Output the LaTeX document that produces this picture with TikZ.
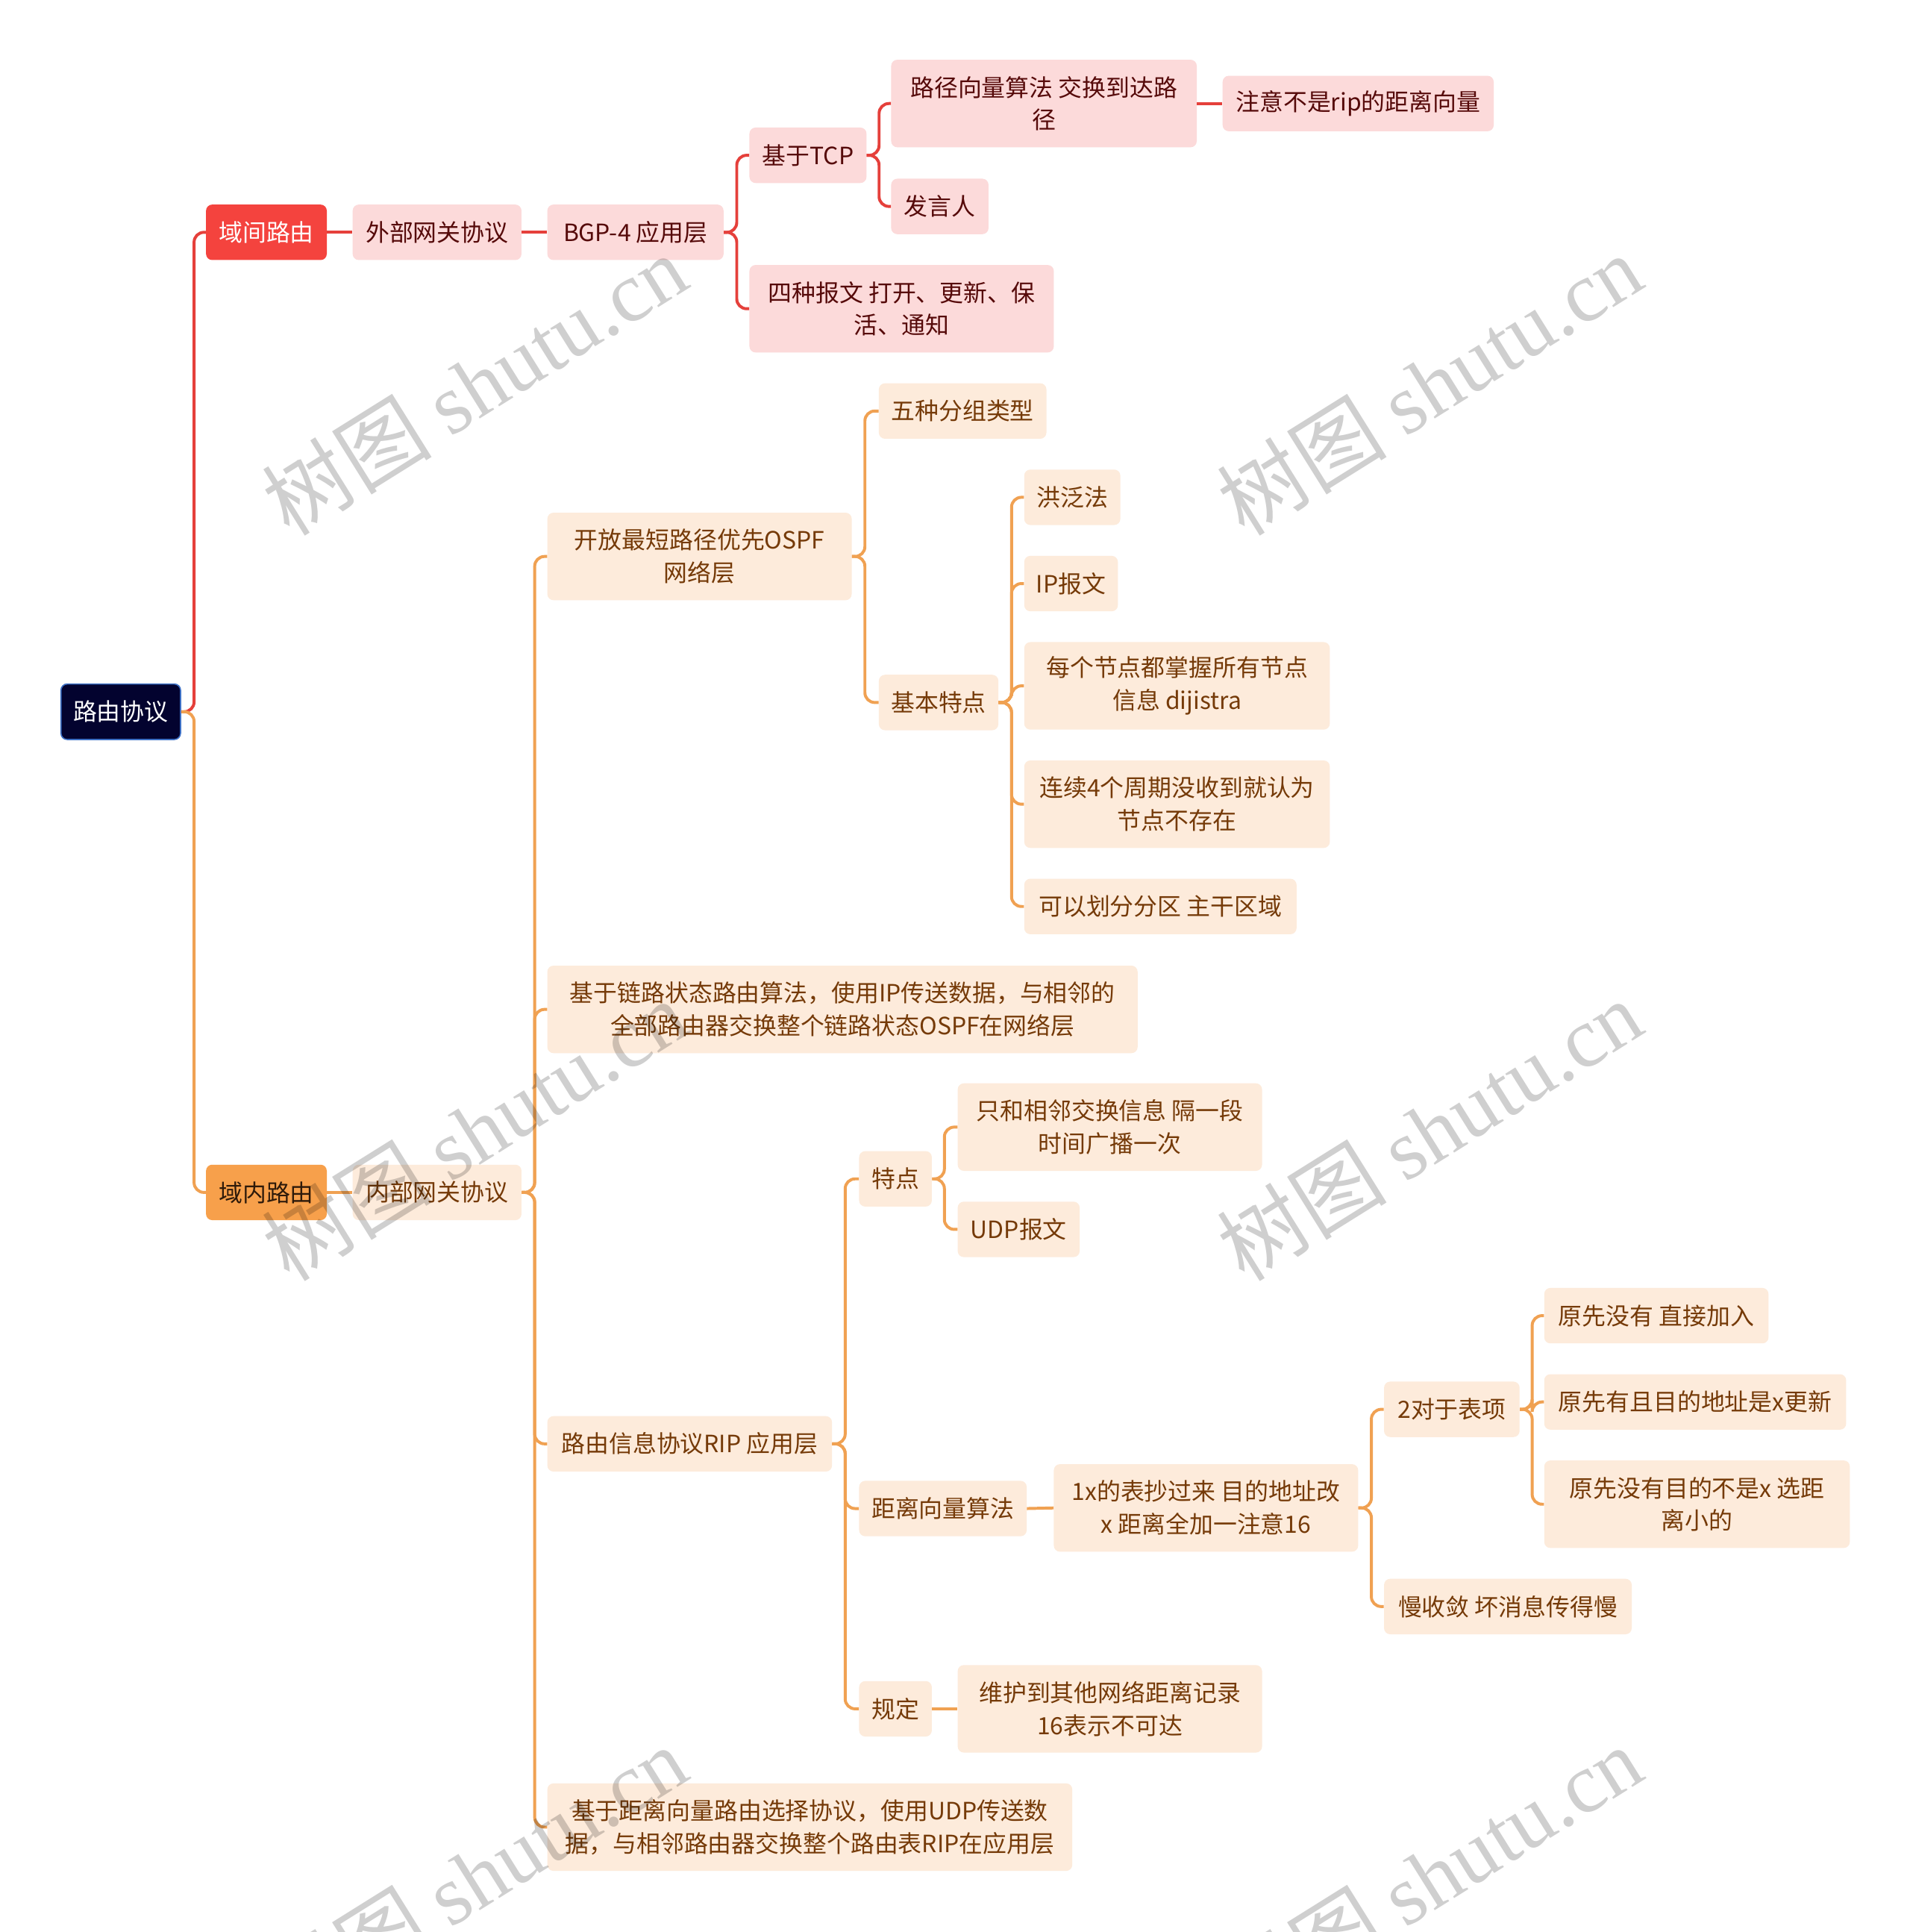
\documentclass[tikz,border=0pt]{standalone}
\usepackage{fontspec}
\setmainfont{Noto Sans CJK SC}
\newfontfamily\wmfont{Liberation Serif}
\definecolor{rootfill}{HTML}{03032F}
\definecolor{rootborder}{HTML}{3C6FC4}
\definecolor{redfill}{HTML}{F4433E}
\definecolor{redlight}{HTML}{FCDADA}
\definecolor{redtext}{HTML}{560A0A}
\definecolor{redline}{HTML}{E5403B}
\definecolor{orafill}{HTML}{F7A04B}
\definecolor{oralight}{HTML}{FDEBDB}
\definecolor{oratext}{HTML}{753A08}
\definecolor{oradark}{HTML}{2E1A0A}
\definecolor{oraline}{HTML}{F0A152}
\begin{document}
\begin{tikzpicture}[x=1pt,y=-1pt,
  base/.style={anchor=west, rounded corners=5pt, align=center, inner xsep=3pt, inner ysep=2pt, minimum height=45pt, font=\fontsize{19.3pt}{26.5pt}\selectfont},
  dbl/.style={minimum height=71pt},
  rootn/.style={base, fill=rootfill, draw=rootborder, line width=1pt, text=white},
  redh/.style={base, fill=redfill, text=white},
  redl/.style={base, fill=redlight, text=redtext},
  orah/.style={base, fill=orafill, text=oradark},
  oral/.style={base, fill=oralight, text=oratext},
  rc/.style={draw=redline, line width=2.4pt, rounded corners=8pt},
  oc/.style={draw=oraline, line width=2.4pt, rounded corners=8pt},
  wm/.style={rotate=32, text=black, text opacity=0.19, inner sep=0pt, font=\fontsize{69pt}{69pt}\selectfont}
]
\fill[white] (0,0) rectangle (1550,1567.6);
\useasboundingbox (0,0) rectangle (1550,1567.6);

% nodes
\node[rootn, minimum width=97pt] (root) at (49,577.5) {路由协议};
\node[redh, minimum width=98pt] (inter) at (167,188.5) {域间路由};
\node[redl, minimum width=137pt] (ext) at (286,188.5) {外部网关协议};
\node[redl, minimum width=143pt] (bgp) at (444,188.5) {BGP-4 应用层};
\node[redl, minimum width=95pt] (tcp) at (608,126) {基于TCP};
\node[redl, dbl, minimum width=247pt] (four) at (608,250.5) {四种报文 打开、更新、保\\活、通知};
\node[redl, dbl, minimum width=248pt] (pv) at (723,84) {路径向量算法 交换到达路\\径};
\node[redl, minimum width=79pt] (spk) at (723,167.5) {发言人};
\node[redl, minimum width=220pt] (note) at (992,84) {注意不是rip的距离向量};

\node[orah, minimum width=98pt] (intra) at (167,967.5) {域内路由};
\node[oral, minimum width=137pt] (igp) at (286,967.5) {内部网关协议};
\node[oral, dbl, minimum width=247pt] (ospf) at (444,451.5) {开放最短路径优先OSPF\\网络层};
\node[oral, dbl, minimum width=479pt] (ls) at (444,819) {基于链路状态路由算法，使用IP传送数据，与相邻的\\全部路由器交换整个链路状态OSPF在网络层};
\node[oral, minimum width=231pt] (rip) at (444,1171.5) {路由信息协议RIP 应用层};
\node[oral, dbl, minimum width=426pt] (dv) at (444,1482.5) {基于距离向量路由选择协议，使用UDP传送数\\据，与相邻路由器交换整个路由表RIP在应用层};
\node[oral, minimum width=136pt] (five) at (713,333.5) {五种分组类型};
\node[oral, minimum width=97pt] (basic) at (713,570) {基本特点};
\node[oral, minimum width=78pt] (flood) at (831,403.5) {洪泛法};
\node[oral, minimum width=76pt] (ipm) at (831,473.5) {IP报文};
\node[oral, dbl, minimum width=248pt] (each) at (831,556.5) {每个节点都掌握所有节点\\信息 dijistra};
\node[oral, dbl, minimum width=248pt] (cont) at (831,652.5) {连续4个周期没收到就认为\\节点不存在};
\node[oral, minimum width=221pt] (area) at (831,735.5) {可以划分分区 主干区域};
\node[oral, minimum width=59pt] (feat) at (697,956.5) {特点};
\node[oral, minimum width=136pt] (dva) at (697,1224) {距离向量算法};
\node[oral, minimum width=59pt] (rule) at (697,1386.5) {规定};
\node[oral, dbl, minimum width=247pt] (nbr) at (777,914.5) {只和相邻交换信息 隔一段\\时间广播一次};
\node[oral, minimum width=99pt] (udp) at (777,997.5) {UDP报文};
\node[oral, dbl, minimum width=247pt] (copy) at (855,1223.5) {1x的表抄过来 目的地址改\\x 距离全加一注意16};
\node[oral, minimum width=110pt] (entry) at (1123,1143.5) {2对于表项};
\node[oral, minimum width=201pt] (slow) at (1123,1303.5) {慢收敛 坏消息传得慢};
\node[oral, minimum width=182pt] (add) at (1253,1067.5) {原先没有 直接加入};
\node[oral, minimum width=245pt] (upd) at (1253,1137.5) {原先有且目的地址是x更新};
\node[oral, dbl, minimum width=248pt] (near) at (1253,1220.5) {原先没有目的不是x 选距\\离小的};
\node[oral, dbl, minimum width=247pt] (keep) at (777,1386.5) {维护到其他网络距离记录\\16表示不可达};

% connectors
\draw[rc] (root.east) -- ++(10.5,0) |- (inter.west);
\draw[oc] (root.east) -- ++(10.5,0) |- (intra.west);
\draw[rc] (inter.east) -- (ext.west);
\draw[rc] (ext.east) -- (bgp.west);
\draw[rc] (bgp.east) -- ++(10.5,0) |- (tcp.west);
\draw[rc] (bgp.east) -- ++(10.5,0) |- (four.west);
\draw[rc] (tcp.east) -- ++(10,0) |- (pv.west);
\draw[rc] (tcp.east) -- ++(10,0) |- (spk.west);
\draw[rc] (pv.east) -- (note.west);

\draw[oc] (intra.east) -- (igp.west);
\foreach \c in {ospf,ls,rip,dv} \draw[oc] (igp.east) -- ++(10.5,0) |- (\c.west);
\foreach \c in {five,basic} \draw[oc] (ospf.east) -- ++(10.5,0) |- (\c.west);
\foreach \c in {flood,ipm,each,cont,area} \draw[oc] (basic.east) -- ++(10.5,0) |- (\c.west);
\foreach \c in {feat,dva,rule} \draw[oc] (rip.east) -- ++(10.5,0) |- (\c.west);
\foreach \c in {nbr,udp} \draw[oc] (feat.east) -- ++(10,0) |- (\c.west);
\draw[oc] (dva.east) -- (copy.west);
\foreach \c in {entry,slow} \draw[oc] (copy.east) -- ++(10.5,0) |- (\c.west);
\foreach \c in {add,upd,near} \draw[oc] (entry.east) -- ++(10,0) |- (\c.west);
\draw[oc] (rule.east) -- (keep.west);

% watermark
\node[wm] (wm1) at (385,312) {树图 {\wmfont shutu.cn}};
\node[wm] (wm2) at (1160,312) {树图 {\wmfont shutu.cn}};
\node[wm] (wm3) at (385,917) {树图 {\wmfont shutu.cn}};
\node[wm] (wm4) at (1160,917) {树图 {\wmfont shutu.cn}};
\node[wm] (wm5) at (385,1522) {树图 {\wmfont shutu.cn}};
\node[wm] (wm6) at (1160,1522) {树图 {\wmfont shutu.cn}};
\end{tikzpicture}
\end{document}
